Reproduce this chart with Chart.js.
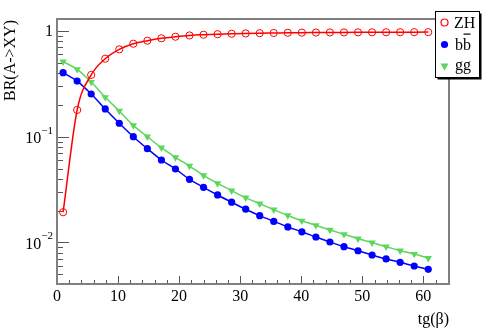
<!DOCTYPE html>
<html><head><meta charset="utf-8">
<script src="https://cdn.jsdelivr.net/npm/chart.js@4/dist/chart.umd.min.js"></script>
<style>html,body{margin:0;padding:0;background:#fff}canvas{display:block}</style>
</head><body>
<canvas id="c" width="490" height="332"></canvas>
<script>
// ---- data ----
const tanBeta = [1,3.3,5.6,7.9,10.2,12.5,14.8,17.1,19.4,21.7,24,26.3,28.6,30.9,33.2,35.5,37.8,40.1,42.4,44.7,47,49.3,51.6,53.9,56.2,58.5,60.8];
const brZH = [0.0193,0.179,0.384,0.547,0.671,0.758,0.810,0.853,0.883,0.908,0.922,0.933,0.942,0.949,0.954,0.958,0.962,0.965,0.967,0.969,0.970,0.971,0.972,0.973,0.974,0.975,0.976];
const brBB = [0.403,0.336,0.2535,0.183,0.134,0.100,0.077,0.0602,0.0495,0.0395,0.0332,0.0281,0.0240,0.0206,0.0179,0.0158,0.0140,0.0126,0.01125,0.01009,0.00911,0.00834,0.00760,0.00697,0.00648,0.00598,0.00556];
const brGG = [0.513,0.434,0.329,0.236,0.175,0.128,0.100,0.0787,0.0638,0.0528,0.0431,0.0362,0.0309,0.0265,0.0232,0.0204,0.0180,0.0160,0.01452,0.01310,0.01193,0.01084,0.00994,0.00911,0.00834,0.00776,0.00708];
const seriesNames = ['ZH','bb','gg'];
const xTickValues = [0,10,20,30,40,50,60];
const yTickValues = [1,0.1,0.01];
const yTickExps = ['', '\u22121', '\u22122'];
const xTitle = 'tg(\u03b2)';
const yTitle = 'BR(A->XY)';

const FONT = '"Liberation Serif","Times New Roman",serif';
const RED = '#ff0000', BLUE = '#0000ff', GREEN = '#5cd65c';
const pts = ys => tanBeta.map((x,i)=>({x:x, y:ys[i]}));

const framePlugin = {
  id:'frame',
  beforeDatasetsDraw(chart){
    const {ctx, chartArea:a, scales:{x, y}} = chart;
    ctx.save();
    // ticks
    ctx.strokeStyle = '#555'; ctx.lineWidth = 1;
    ctx.beginPath();
    for (let v=0; v<=64; v+=2){
      const px = Math.round(x.getPixelForValue(v))+0.5;
      const len = (v%10===0)?8:4;
      ctx.moveTo(px, a.bottom); ctx.lineTo(px, a.bottom-len);
    }
    for (let e=-3; e<=0; e++){
      for (let m=1; m<=9; m++){
        const v = m*Math.pow(10,e);
        if (v < y.min || v > y.max) continue;
        const py = Math.round(y.getPixelForValue(v))+0.5;
        const len = (m===1)?12:6;
        ctx.moveTo(a.left, py); ctx.lineTo(a.left+len, py);
      }
    }
    ctx.stroke();
    // frame
    ctx.strokeStyle = '#808080'; ctx.lineWidth = 2;
    ctx.strokeRect(a.left, a.top, a.right-a.left, a.bottom-a.top);
    // tick labels
    ctx.fillStyle = '#000';
    ctx.font = '16px ' + FONT;
    ctx.textAlign = 'center'; ctx.textBaseline = 'middle';
    xTickValues.forEach(v=>{ ctx.fillText(String(v), x.getPixelForValue(v), 297); });
    yTickValues.forEach((v,i)=>{
      const py = y.getPixelForValue(v);
      if (!yTickExps[i]){
        ctx.font = '16px ' + FONT; ctx.textAlign='right'; ctx.textBaseline='middle';
        ctx.fillText('1', 53, py+1);
      } else {
        ctx.font = '11px ' + FONT; ctx.textAlign='right'; ctx.textBaseline='middle';
        ctx.fillText(yTickExps[i], 53, py-6);
        const w = ctx.measureText(yTickExps[i]).width;
        ctx.font = '16px ' + FONT;
        ctx.fillText('10', 53-w, py+2);
      }
    });
    // axis titles
    ctx.font = '16px ' + FONT;
    ctx.textAlign='right'; ctx.textBaseline='middle';
    ctx.fillText(xTitle, a.right, 320);
    ctx.save();
    ctx.translate(11, 20); ctx.rotate(-Math.PI/2);
    ctx.textAlign='right'; ctx.textBaseline='middle';
    ctx.fillText(yTitle, 0, 0);
    ctx.restore();
    ctx.restore();
  },
  afterDraw(chart){
    const ctx = chart.ctx;
    ctx.save();
    // legend box with shadow
    const L=435.5, T=11.5, W=44, H=66;
    ctx.fillStyle='#000';
    ctx.fillRect(L+2, T+2, W, H);
    ctx.fillStyle='#fff';
    ctx.fillRect(L, T, W, H);
    ctx.strokeStyle='#000'; ctx.lineWidth=1;
    ctx.strokeRect(L, T, W, H);
    const rows=[22.5,44.5,66.5];
    // markers
    ctx.lineWidth=1.2; ctx.strokeStyle=RED;
    ctx.beginPath(); ctx.arc(444.5, rows[0], 3.5, 0, Math.PI*2); ctx.stroke();
    ctx.fillStyle=BLUE;
    ctx.beginPath(); ctx.arc(444.5, rows[1], 3.6, 0, Math.PI*2); ctx.fill();
    ctx.fillStyle=GREEN;
    ctx.beginPath(); ctx.moveTo(440.5, rows[2]-3); ctx.lineTo(448.5, rows[2]-3); ctx.lineTo(444.5, rows[2]+4); ctx.closePath(); ctx.fill();
    // text
    ctx.fillStyle='#000'; ctx.font='16px '+FONT; ctx.textAlign='left'; ctx.textBaseline='alphabetic';
    ctx.fillText(seriesNames[0], 454, 28);
    ctx.fillText(seriesNames[1], 455, 50);
    const bw = ctx.measureText('b').width;
    ctx.fillRect(455+bw+0.5, 33.5, bw-1, 1.2);
    ctx.fillText(seriesNames[2], 455, 70);
    ctx.restore();
  }
};

new Chart(document.getElementById('c'), {
  type:'line',
  data:{datasets:[
    {label:seriesNames[0], data:pts(brZH), borderColor:RED, borderWidth:1.5, pointStyle:'circle', pointRadius:3.6, pointBorderWidth:1, pointBackgroundColor:'rgba(0,0,0,0)', pointBorderColor:RED, cubicInterpolationMode:'monotone', fill:false},
    {label:seriesNames[1], data:pts(brBB), borderColor:BLUE, borderWidth:1.5, pointStyle:'circle', pointRadius:3.6, pointBorderWidth:0, pointBackgroundColor:BLUE, pointBorderColor:BLUE, cubicInterpolationMode:'monotone', fill:false},
    {label:seriesNames[2], data:pts(brGG), borderColor:GREEN, borderWidth:1.5, pointStyle:'triangle', rotation:180, pointRadius:4.3, pointBorderWidth:0, pointBackgroundColor:GREEN, pointBorderColor:GREEN, cubicInterpolationMode:'monotone', fill:false}
  ]},
  options:{
    responsive:false, animation:false, devicePixelRatio:1,
    layout:{padding:{top:19, right:41, left:0, bottom:0}},
    plugins:{legend:{display:false}, tooltip:{enabled:false}},
    scales:{
      x:{type:'linear', min:0, max:64.2, afterFit(s){s.height=48;}, grid:{display:false, drawTicks:false}, border:{display:false}, ticks:{display:false}},
      y:{type:'logarithmic', min:0.00404, max:1.299, afterFit(s){s.width=57;}, grid:{display:false, drawTicks:false}, border:{display:false}, ticks:{display:false}}
    }
  },
  plugins:[framePlugin]
});
</script>
</body></html>
